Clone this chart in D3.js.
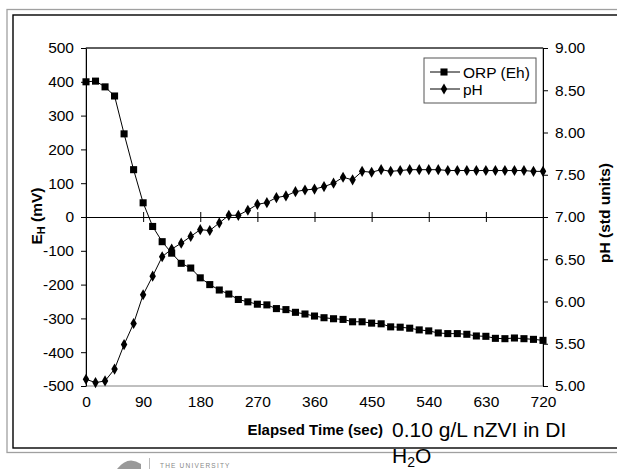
<!DOCTYPE html>
<html>
<head>
<meta charset="utf-8">
<script src="https://cdn.jsdelivr.net/npm/d3@7"></script>
<style>
  body { margin: 0; background: #fff; }
  text { font-family: "Liberation Sans", Arial, sans-serif; }
</style>
</head>
<body>
<div id="chart"></div>
<script>
// elapsed time (sec), one reading every 15 s
const times = [0, 15, 30, 45, 60, 75, 90, 105, 120, 135, 150, 165, 180, 195, 210, 225, 240, 255, 270, 285,
  300, 315, 330, 345, 360, 375, 390, 405, 420, 435, 450, 465, 480, 495, 510, 525, 540, 555, 570, 585,
  600, 615, 630, 645, 660, 675, 690, 705, 720];

// ORP (Eh), mV
const orp = [400, 402, 385, 358, 246, 140, 42, -28, -73, -107, -137, -151, -180, -200, -216, -228, -244, -251, -258, -260,
  -271, -274, -282, -287, -293, -298, -301, -303, -310, -310, -314, -316, -325, -326, -329, -334, -337, -343, -345, -345,
  -347, -352, -353, -359, -360, -358, -360, -362, -365];

// pH, std units
const ph = [5.08, 5.04, 5.06, 5.20, 5.49, 5.74, 6.08, 6.30, 6.53, 6.62, 6.69, 6.77, 6.85, 6.84, 6.93, 7.02, 7.02, 7.08, 7.15, 7.17,
  7.23, 7.25, 7.30, 7.32, 7.33, 7.36, 7.40, 7.47, 7.44, 7.54, 7.53, 7.56, 7.54, 7.55, 7.56, 7.56, 7.56, 7.56, 7.55, 7.55,
  7.55, 7.55, 7.55, 7.55, 7.55, 7.55, 7.55, 7.54, 7.54];

const xTicks = [0, 90, 180, 270, 360, 450, 540, 630, 720];
const ehTicks = [-500, -400, -300, -200, -100, 0, 100, 200, 300, 400, 500];
const phTicks = [5, 5.5, 6, 6.5, 7, 7.5, 8, 8.5, 9];

const W = 617, H = 469;
const fs = 15.5; // tick and legend font size
const svg = d3.select("#chart").append("svg").attr("width", W).attr("height", H);

// double frame round the slide
svg.append("rect").attr("x", 7).attr("y", 9.5).attr("width", 620).attr("height", 443)
  .attr("fill", "none").attr("stroke", "#a0a0a0").attr("stroke-width", 1.3);
svg.append("rect").attr("x", 13).attr("y", 15).attr("width", 620).attr("height", 433)
  .attr("fill", "none").attr("stroke", "#000").attr("stroke-width", 1.4);

const x = d3.scaleLinear().domain([0, 720]).range([86, 543]);
const yL = d3.scaleLinear().domain([-500, 500]).range([386, 48]);
const yR = d3.scaleLinear().domain([5, 9]).range([386, 48]);

// plot area border
svg.append("rect").attr("x", 86).attr("y", 48).attr("width", 457).attr("height", 338)
  .attr("fill", "none").attr("stroke", "#808080");
svg.append("line").attr("x1", 86).attr("x2", 543).attr("y1", 48).attr("y2", 48).attr("stroke", "#000");

// left axis (plain hyphen for negatives, like Excel)
const leftAxis = svg.append("g").attr("transform", "translate(86,0)")
  .call(d3.axisLeft(yL).tickValues(ehTicks).tickFormat((d) => String(d))
    .tickSize(5).tickSizeOuter(0).tickPadding(7));
leftAxis.selectAll("text").attr("font-size", fs).attr("fill", "#000");

// right axis
const rightAxis = svg.append("g").attr("transform", "translate(543,0)")
  .call(d3.axisRight(yR).tickValues(phTicks).tickFormat((d) => d.toFixed(2))
    .tickSize(5).tickSizeOuter(0).tickPadding(7));
rightAxis.selectAll("text").attr("font-size", fs).attr("fill", "#000");

// x axis crossing at Eh = 0, cross ticks
const xAxis = svg.append("g").attr("transform", `translate(0,${yL(0)})`)
  .call(d3.axisBottom(x).tickValues(xTicks).tickSize(5).tickSizeOuter(0).tickFormat(""));
xAxis.selectAll(".tick line").attr("y1", -5);

// x tick labels at the bottom of the plot
const xLabels = svg.append("g").attr("transform", "translate(0,386)")
  .call(d3.axisBottom(x).tickValues(xTicks).tickFormat((d) => String(d)).tickSize(0).tickPadding(10));
xLabels.select(".domain").remove();
xLabels.selectAll("text").attr("font-size", fs).attr("fill", "#000");

svg.selectAll(".domain, .tick line").attr("stroke", "#000");

// series
const orpLine = d3.line().x((d, i) => x(times[i])).y((d) => yL(d));
const phLine = d3.line().x((d, i) => x(times[i])).y((d) => yR(d));

svg.append("path").datum(orp).attr("d", orpLine).attr("fill", "none").attr("stroke", "#000").attr("stroke-width", 1);
svg.append("path").datum(ph).attr("d", phLine).attr("fill", "none").attr("stroke", "#000").attr("stroke-width", 1);

const square = d3.symbol().type(d3.symbolSquare).size(50);
const diamond = d3.symbol().type(d3.symbolDiamond).size(36);

svg.selectAll(".orpPt").data(orp).enter().append("path")
  .attr("class", "orpPt")
  .attr("d", square)
  .attr("transform", (d, i) => `translate(${x(times[i])},${yL(d)})`)
  .attr("fill", "#000");

svg.selectAll(".phPt").data(ph).enter().append("path")
  .attr("class", "phPt")
  .attr("d", diamond)
  .attr("transform", (d, i) => `translate(${x(times[i])},${yR(d)})`)
  .attr("fill", "#000");

// axis titles
const ehTitle = svg.append("text")
  .attr("transform", "translate(42,216) rotate(-90)")
  .attr("text-anchor", "middle").attr("font-size", 15.5).attr("font-weight", "bold");
ehTitle.append("tspan").text("E");
ehTitle.append("tspan").attr("font-size", 11).attr("dy", 3).text("H");
ehTitle.append("tspan").attr("dy", -3).text(" (mV)");

svg.append("text")
  .attr("transform", "translate(610,213) rotate(-90)")
  .attr("text-anchor", "middle").attr("font-size", 15.5).attr("font-weight", "bold")
  .text("pH (std units)");

svg.append("text").attr("x", 383).attr("y", 435).attr("text-anchor", "end")
  .attr("font-size", 15).attr("font-weight", "bold").text("Elapsed Time (sec)");

// sample note
svg.append("text").attr("x", 392).attr("y", 437).attr("font-size", 21).text("0.10 g/L nZVI in DI");
const h2o = svg.append("text").attr("x", 392).attr("y", 463).attr("font-size", 21);
h2o.append("tspan").text("H");
h2o.append("tspan").attr("font-size", 14).attr("dy", 4).text("2");
h2o.append("tspan").attr("dy", -4).text("O");

// legend
const legend = svg.append("g").attr("transform", "translate(424,58)");
legend.append("rect").attr("width", 112).attr("height", 45).attr("fill", "#fff").attr("stroke", "#555");
const legendItems = [
  { name: "ORP (Eh)", sym: square, y: 14 },
  { name: "pH", sym: diamond, y: 31 },
];
legendItems.forEach((item) => {
  legend.append("line").attr("x1", 6).attr("x2", 36).attr("y1", item.y).attr("y2", item.y).attr("stroke", "#000");
  legend.append("path").attr("d", item.sym).attr("transform", `translate(20,${item.y})`).attr("fill", "#000");
  legend.append("text").attr("x", 39).attr("y", item.y + 5.5).attr("font-size", fs).text(item.name);
});

// faint logo at the bottom
svg.append("path").attr("d", "M117,469 Q128,455 141,464 L141,469 Z").attr("fill", "#999");
svg.append("line").attr("x1", 149.5).attr("x2", 149.5).attr("y1", 458).attr("y2", 469).attr("stroke", "#bbb");
svg.append("text").attr("x", 160).attr("y", 468).attr("font-size", 6.5)
  .attr("font-family", "Liberation Serif, serif").attr("letter-spacing", 1.2).attr("fill", "#888")
  .text("THE UNIVERSITY");
</script>
</body>
</html>
